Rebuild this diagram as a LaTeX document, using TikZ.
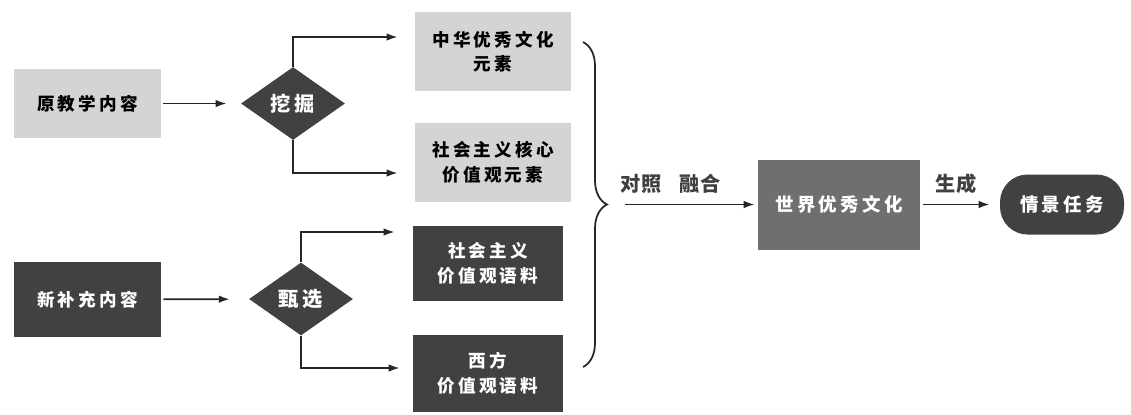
\documentclass[tikz,border=0pt]{standalone}
\usepackage{fontspec}
\setmainfont{Noto Sans CJK SC}[LetterSpace=18]
\usetikzlibrary{arrows.meta}
\usetikzlibrary{shapes.geometric}
\usetikzlibrary{decorations.pathreplacing}
\definecolor{lightbox}{HTML}{D4D4D4}
\definecolor{darkbox}{HTML}{414141}
\definecolor{midbox}{HTML}{6F6F6F}
\tikzset{
%Define standard arrow tip
>={Latex[length=2.2mm,width=1.5mm]},
%Define styles for the boxes
card/.style={inner sep=0pt, align=center, font=\fontsize{10}{14}\selectfont\bfseries},
lightcard/.style={card, fill=lightbox, text=black},
darkcard/.style={card, fill=darkbox, text=white},
choice/.style={card, diamond, fill=darkbox, text=white, minimum width=2.08cm, minimum height=1.46cm,
  font=\fontsize{11.5}{14}\selectfont\bfseries},
%Define style for the connectors
link/.style={->, line width=1pt, draw=black!85},
linktext/.style={font=\fontsize{11.5}{13}\selectfont\bfseries\addfontfeature{LetterSpace=4}, text=black!75, inner sep=0pt},
}

\begin{document}
\begin{tikzpicture}[x=0.02cm, y=-0.02cm]
\useasboundingbox (0,0) rectangle (1131,414);

% sources
\node[lightcard, minimum width=2.94cm, minimum height=1.38cm] (oldSrc) at (87.5,103.5) {原教学内容};
\node[darkcard, minimum width=2.94cm, minimum height=1.5cm] (newSrc) at (87.5,299.5) {新补充内容};

% choices
\node[choice] (dig) at (293,103.5) {挖掘};
\node[choice] (pick) at (301,299) {甄选};

% elements
\node[lightcard, minimum width=3.12cm, minimum height=1.58cm] (cultureElem) at (493,51.5) {中华优秀文化\\元素};
\node[lightcard, minimum width=3.12cm, minimum height=1.58cm] (valueElem) at (493,162.5) {社会主义核心\\价值观元素};
\node[darkcard, minimum width=3cm, minimum height=1.5cm] (valueText) at (488,263.5) {社会主义\\价值观语料};
\node[darkcard, minimum width=3cm, minimum height=1.54cm] (westText) at (488,373.5) {西方\\价值观语料};

% brace
\coordinate (braceTop) at (583,42);
\coordinate (braceBot) at (583,367);
\coordinate (braceTip) at (607,204.5);
\draw[line width=1pt, draw=black!85, decorate, decoration={brace, amplitude=0.48cm}] (braceTop) -- (braceBot);

% world culture and task
\node[card, fill=midbox, text=white, minimum width=3.24cm, minimum height=1.8cm, font=\fontsize{10.5}{14}\selectfont\bfseries] (world) at (839,204.5) {世界优秀文化};
\node[card, fill=darkbox, text=white, rounded corners=0.55cm, minimum width=2.48cm, minimum height=1.2cm, font=\fontsize{10.5}{14}\selectfont\bfseries] (task) at (1062,204.5) {情景任务};

% connectors
\draw[link, shorten <=0.04cm, shorten >=0.28cm] (oldSrc) -- (dig);
\draw[link, shorten <=0.04cm, shorten >=0.38cm] (newSrc) -- (pick);
\draw[link] (dig.north) |- ([xshift=-0.34cm, yshift=0.29cm]cultureElem.west);
\draw[link] (dig.south) |- ([xshift=-0.34cm, yshift=-0.21cm]valueElem.west);
\draw[link] (pick.north) |- ([xshift=-0.36cm, yshift=0.63cm]valueText.west);
\draw[link] (pick.south) |- ([xshift=-0.26cm, yshift=0.11cm]westText.west);
\draw[link, shorten <=0.36cm, shorten >=0.06cm] (braceTip) -- node[linktext, above=0.2cm, pos=0.42] {对照\hspace{0.36cm}融合} (world.west);
\draw[link, shorten <=0.06cm, shorten >=0.2cm] (world) -- node[linktext, above=0.2cm, pos=0.45] {生成} (task);

\end{tikzpicture}
\end{document}
